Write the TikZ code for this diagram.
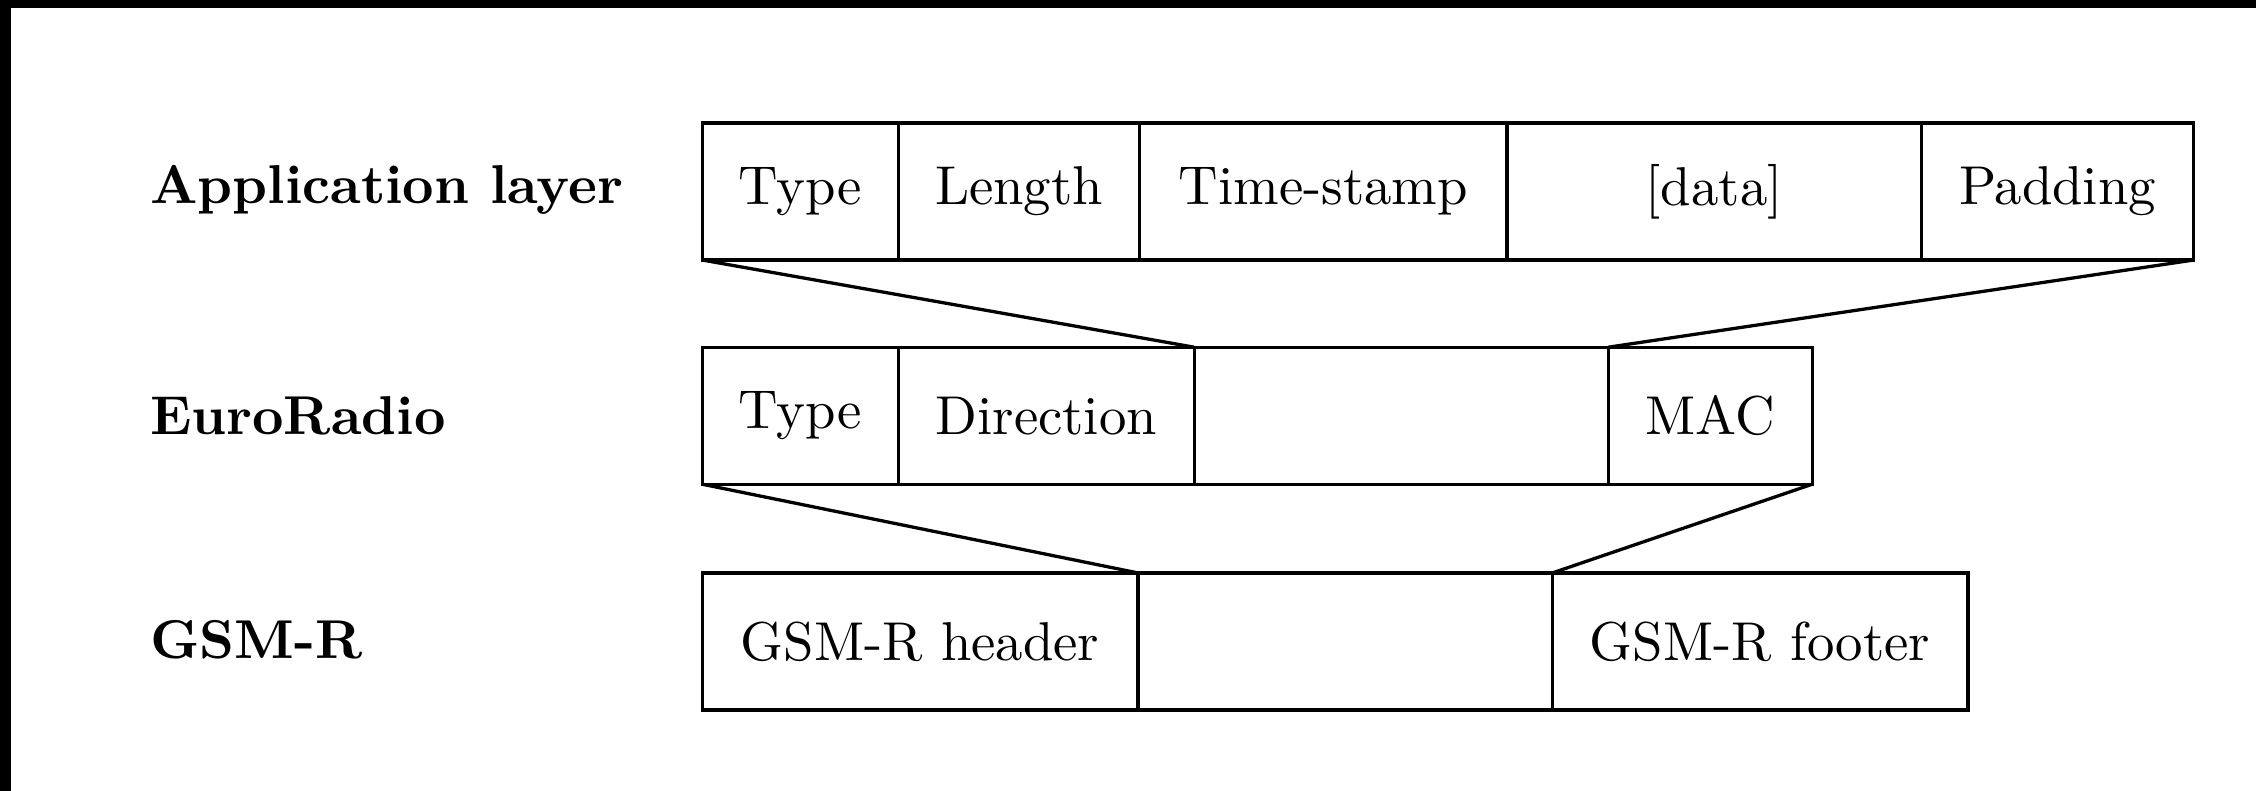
\documentclass[tikz,border=0pt]{standalone}
\usepackage{tikz}
\usetikzlibrary{positioning}

\begin{document}
\begin{tikzpicture}[
        field/.style={draw, line width=0.6pt, minimum height=0.88cm, inner sep=0pt, outer sep=0pt, font=\normalsize},
        layerlabel/.style={font=\normalsize\bfseries, anchor=west},
        funnel/.style={line width=0.6pt}
    ]
    \useasboundingbox (0,0) rectangle (14.49,-5.08);
    % black edges of the screenshot
    \fill[black] (0,0) rectangle (14.49,-0.05);
    \fill[black] (0,0) rectangle (0.07,-5.08);

    % === Application layer ===
    \node[layerlabel] (lapp) at (0.84,-1.22) {Application layer};
    \node[field, minimum width=1.26cm, anchor=north west] (app1) at (4.51,-0.79) {Type};
    \node[field, minimum width=1.55cm, right=0pt of app1] (app2) {Length};
    \node[field, minimum width=2.36cm, right=0pt of app2] (app3) {Time-stamp};
    \node[field, minimum width=2.66cm, right=0pt of app3] (app4) {[data]};
    \node[field, minimum width=1.75cm, right=0pt of app4] (app5) {Padding};

    % === EuroRadio ===
    \node[layerlabel] (leuro) at (0.84,-2.67) {EuroRadio};
    \node[field, minimum width=1.26cm, anchor=north west] (euro1) at (4.51,-2.23) {Type};
    \node[field, minimum width=1.90cm, right=0pt of euro1] (euro2) {Direction};
    \node[field, minimum width=2.66cm, right=0pt of euro2] (euro3) {};
    \node[field, minimum width=1.31cm, right=0pt of euro3] (euro4) {MAC};

    % === GSM-R ===
    \node[layerlabel] (lgsm) at (0.84,-4.11) {GSM-R};
    \node[field, minimum width=2.80cm, anchor=north west] (gsm1) at (4.51,-3.68) {GSM-R header};
    \node[field, minimum width=2.66cm, right=0pt of gsm1] (gsm2) {};
    \node[field, minimum width=2.67cm, right=0pt of gsm2] (gsm3) {GSM-R footer};

    % Encapsulation
    \draw[funnel] (app1.south west) -- (euro3.north west);
    \draw[funnel] (app5.south east) -- (euro4.north west);
    \draw[funnel] (euro1.south west) -- (gsm2.north west);
    \draw[funnel] (euro4.south east) -- (gsm3.north west);

    \end{tikzpicture}
\end{document}
